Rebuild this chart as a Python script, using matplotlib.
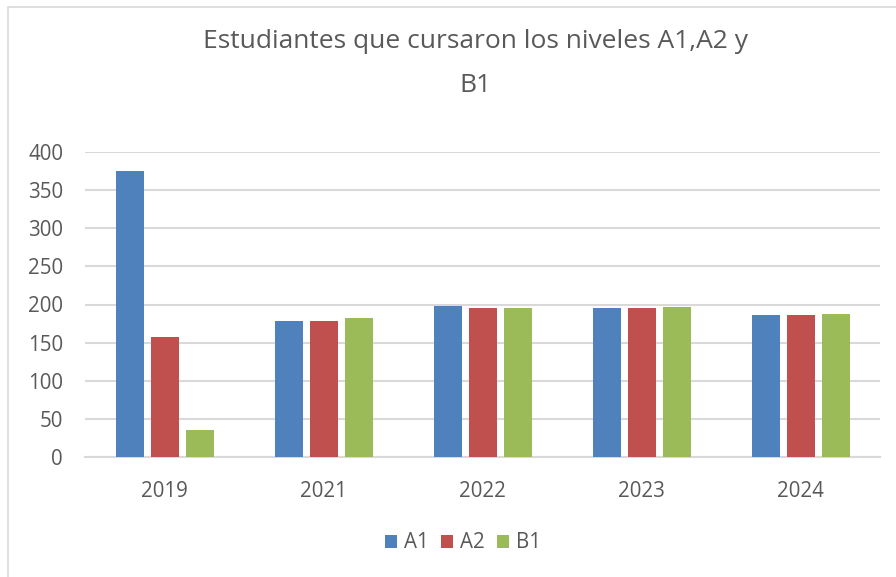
import matplotlib
matplotlib.use("Agg")
import matplotlib.pyplot as plt
from matplotlib.patches import Rectangle
import numpy as np

plt.rcParams['font.family'] = ['Open Sans', 'DejaVu Sans']

categories = ["2019", "2021", "2022", "2023", "2024"]
series_names = ["A1", "A2", "B1"]
a1 = [375, 179, 198, 195, 186]
a2 = [157, 179, 195, 195, 186]
b1 = [35, 182, 195, 197, 188]
colors = ["#4F81BD", "#C0504D", "#9BBB59"]
title = "Estudiantes que cursaron los niveles A1,A2 y\nB1"

W, H = 896, 577
fig = plt.figure(figsize=(W / 100, H / 100), dpi=100)
fig.patch.set_facecolor("white")

# chart border
fig.add_artist(Rectangle((8 / W, -0.01), 1.0, 1 - 7 / H + 0.01, transform=fig.transFigure,
                         fill=False, edgecolor="#D9D9D9", linewidth=1.2))

left, right, top, bottom = 85, 880, 152, 457
ax = fig.add_axes([left / W, 1 - bottom / H, (right - left) / W, (bottom - top) / H])

x = np.arange(len(categories))
bw = 28 / 159
step = 35 / 159
for i, (vals, name) in enumerate(zip([a1, a2, b1], series_names)):
    ax.bar(x + (i - 1) * step, vals, width=bw, color=colors[i], label=name, zorder=3)

ax.set_xlim(-0.5, len(categories) - 0.5)
ax.set_ylim(0, 400)
ax.set_yticks(range(0, 401, 50))
ax.set_xticks(x)
ax.set_xticklabels(categories)
ax.yaxis.grid(True, color="#D9D9D9", linewidth=1.5, zorder=0)
ax.set_axisbelow(True)
for s in ["top", "right", "left"]:
    ax.spines[s].set_visible(False)
ax.spines["bottom"].set_color("#D9D9D9")
ax.spines["bottom"].set_linewidth(1.5)
ax.tick_params(axis="both", length=0, labelsize=14.8, colors="#595959")
ax.tick_params(axis="y", pad=15.8)
ax.tick_params(axis="x", pad=17.5)

fig.text(475 / W, 1 - 63.5 / H, title, ha="center", va="center", fontsize=19,
         color="#595959", linespacing=1.95)

leg = fig.legend(loc="center", bbox_to_anchor=(463 / W, 1 - 543 / H), ncol=3,
                 frameon=False, fontsize=14.8, handlelength=0.62, handleheight=0.62,
                 handletextpad=0.35, columnspacing=0.55)
for t in leg.get_texts():
    t.set_color("#595959")

fig.savefig("out.png", dpi=100, facecolor="white")
